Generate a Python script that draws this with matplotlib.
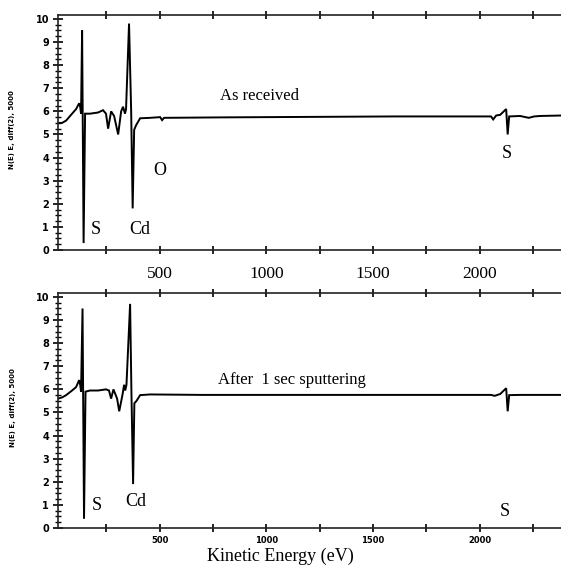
import matplotlib
matplotlib.use("Agg")
import matplotlib.pyplot as plt
from matplotlib.ticker import MultipleLocator

# spectrum: (kinetic energy eV, signal)
e_top = [23, 42, 61, 89, 108, 122, 127, 131, 136, 143, 150, 173, 211, 234, 248,
         258, 272, 286, 305, 319, 328, 337, 342, 356, 366, 373, 380, 389, 408,
         455, 502, 511, 520, 800, 1200, 1600, 2053, 2063, 2077, 2096, 2124,
         2131, 2138, 2189, 2230, 2255, 2283, 2381]
n_top = [5.5, 5.5, 5.6, 5.9, 6.1, 6.35, 6.2, 5.9, 9.5, 0.3, 5.9, 5.9, 5.95, 6.05, 5.9,
         5.25, 6.0, 5.8, 5.0, 6.0, 6.2, 5.9, 6.1, 9.8, 6.0, 1.8, 5.2, 5.4, 5.7,
         5.72, 5.75, 5.62, 5.72, 5.74, 5.76, 5.78, 5.78, 5.65, 5.82, 5.85, 6.1,
         5.0, 5.78, 5.8, 5.72, 5.78, 5.8, 5.82]

e_bot = [23, 42, 61, 89, 108, 122, 127, 131, 138, 145, 152, 173, 211, 248, 262,
         272, 283, 300, 310, 326, 333, 338, 344, 361, 367, 375, 381, 391, 408,
         455, 700, 1200, 1600, 2053, 2070, 2096, 2124, 2131, 2138, 2189, 2381]
n_bot = [5.6, 5.65, 5.75, 5.95, 6.1, 6.4, 6.2, 5.9, 9.5, 0.4, 5.9, 5.95, 5.95, 6.0, 5.95,
         5.6, 6.0, 5.6, 5.05, 5.8, 6.2, 5.95, 6.2, 9.7, 6.0, 1.9, 5.4, 5.5, 5.75,
         5.78, 5.76, 5.76, 5.76, 5.76, 5.72, 5.8, 6.05, 5.05, 5.75, 5.76, 5.76]

x_labels = [500, 1000, 1500, 2000]
ylab = "N(E) E, diff(2), 5000"

W, H = 561, 573
fig = plt.figure(figsize=(W / 100, H / 100), dpi=100)
serif = "Liberation Serif"


def panel(top_px, bot_px, e, n):
    ax = fig.add_axes([58 / W, 1 - bot_px / H, (561 - 58) / W, (bot_px - top_px) / H])
    ax.plot(e, n, color="black", lw=1.4, solid_joinstyle="miter")
    ax.set_xlim(23, 2381)
    ax.set_ylim(0, 10.17)
    ax.spines["right"].set_visible(False)
    for s in ("left", "top", "bottom"):
        ax.spines[s].set_linewidth(1.2)
        ax.spines[s].set_color("#222222")
    ax.xaxis.set_major_locator(MultipleLocator(250))
    ax.tick_params(axis="x", which="major", direction="inout", length=6, width=1.2,
                   top=True, bottom=True, labelbottom=False)
    ax.yaxis.set_major_locator(MultipleLocator(1))
    ax.yaxis.set_minor_locator(MultipleLocator(0.25))
    ax.tick_params(axis="y", which="major", direction="inout", length=7, width=1.2,
                   labelsize=7, pad=3)
    ax.tick_params(axis="y", which="minor", direction="inout", length=4, width=1)
    for t in ax.get_yticklabels():
        t.set_fontweight("bold")
    return ax


ax1 = panel(15, 250, e_top, n_top)
ax2 = panel(293, 528, e_bot, n_bot)

# top panel: serif tick labels under the axis
for v in x_labels:
    ax1.text(v, -0.7, str(v), ha="center", va="top", family=serif, fontsize=12.5)
# bottom panel: small bold labels
for v in x_labels:
    ax2.text(v, -0.35, str(v), ha="center", va="top", fontsize=6, fontweight="bold")

def lab(x, y, s, size=13):
    fig.text(x / W, 1 - y / H, s, ha="center", va="center", family=serif, fontsize=size)

lab(260, 96, "As received", 12)
lab(96, 230, "S")
lab(140, 230, "Cd")
lab(160, 170, "O")
lab(507, 153, "S")

lab(292, 380, "After  1 sec sputtering", 12)
lab(97, 505, "S")
lab(136, 502, "Cd")
lab(505, 512, "S")

lab(280, 556, "Kinetic Energy (eV)")

fig.text(12 / W, 1 - 130 / H, ylab, rotation=90, ha="center", va="center",
         fontsize=5, fontweight="bold")
fig.text(13 / W, 1 - 408 / H, ylab, rotation=90, ha="center", va="center",
         fontsize=5, fontweight="bold")

fig.savefig("out.png", dpi=100)
